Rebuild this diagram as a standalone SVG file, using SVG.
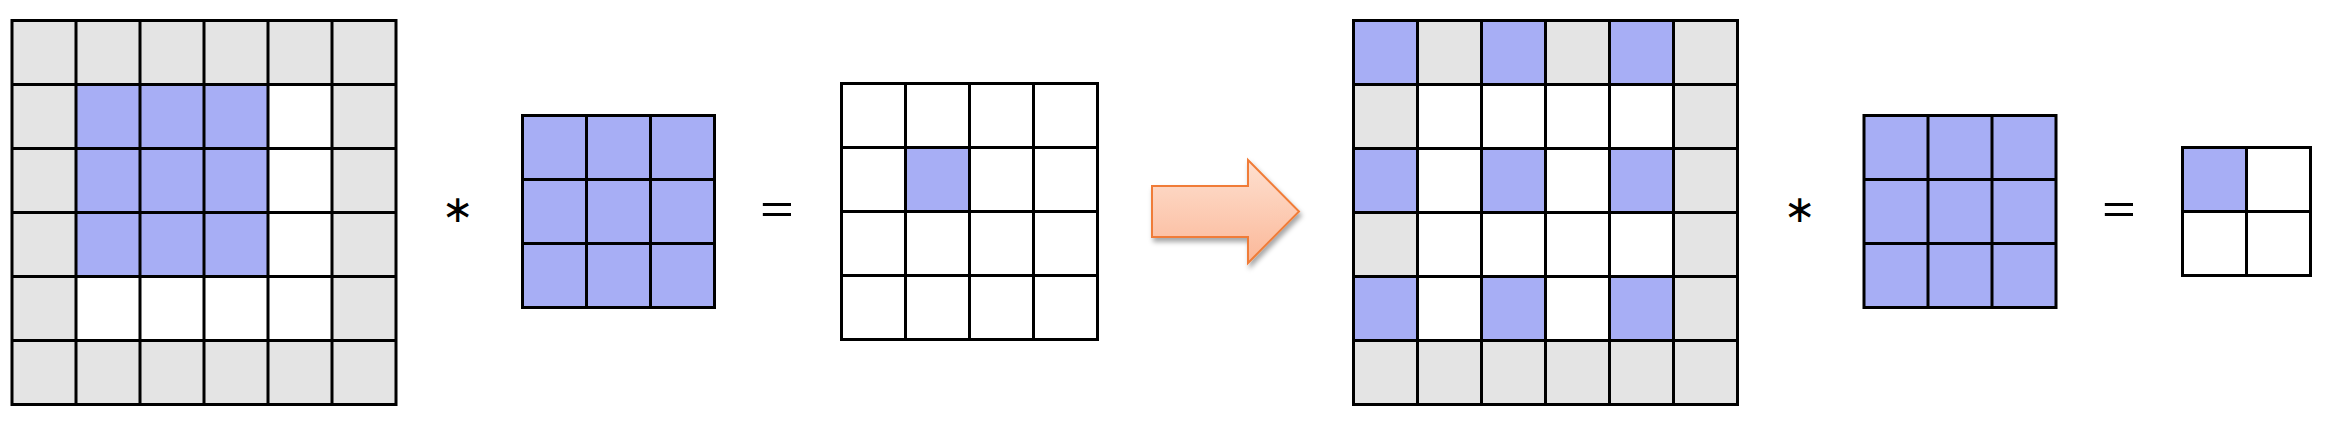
<svg xmlns="http://www.w3.org/2000/svg" width="2344" height="422" viewBox="0 0 2344 422">
<defs>
<style>
.g{fill:#e4e4e4}
.w{fill:#ffffff}
.b{fill:#a7aef5}
.ln{fill:none;stroke:#000;stroke-width:3;stroke-linecap:square}
.op{font-family:"DejaVu Sans","Liberation Sans",sans-serif;fill:#000}
</style>
<linearGradient id="arrowFill" x1="0" y1="0" x2="0" y2="1">
<stop offset="0" stop-color="#fee0d0"/>
<stop offset="1" stop-color="#fbb899"/>
</linearGradient>
<filter id="shadow" x="-20%" y="-20%" width="140%" height="150%">
<feDropShadow dx="2" dy="4" stdDeviation="2.5" flood-color="#000" flood-opacity="0.35"/>
</filter>
</defs>
<rect width="2344" height="422" fill="#fff"/>

<g id="input-padded">
<rect class="g" x="12" y="20.5" width="384" height="384"/>
<rect class="w" x="76" y="84.5" width="256" height="256"/>
<rect class="b" x="76" y="84.5" width="192" height="192"/>
<path class="ln" d="M12 20.5V404.5M76 20.5V404.5M140 20.5V404.5M204 20.5V404.5M268 20.5V404.5M332 20.5V404.5M396 20.5V404.5M12 20.5H396M12 84.5H396M12 148.5H396M12 212.5H396M12 276.5H396M12 340.5H396M12 404.5H396"/>
</g>

<g id="op-star-1"><text class="op" x="458" y="222" font-size="38" text-anchor="middle">∗</text></g>

<g id="kernel-1">
<rect class="b" x="522.5" y="115.5" width="192" height="192"/>
<path class="ln" d="M522.5 115.5V307.5M586.5 115.5V307.5M650.5 115.5V307.5M714.5 115.5V307.5M522.5 115.5H714.5M522.5 179.5H714.5M522.5 243.5H714.5M522.5 307.5H714.5"/>
</g>

<g id="op-eq-1"><text class="op" transform="translate(777 223) scale(1.45 1)" x="0" y="0" font-size="40" text-anchor="middle" style="font-family:'Liberation Sans',sans-serif">=</text></g>

<g id="output-1">
<rect class="w" x="841.5" y="83.5" width="256" height="256"/>
<rect class="b" x="905.5" y="147.5" width="64" height="64"/>
<path class="ln" d="M841.5 83.5V339.5M905.5 83.5V339.5M969.5 83.5V339.5M1033.5 83.5V339.5M1097.5 83.5V339.5M841.5 83.5H1097.5M841.5 147.5H1097.5M841.5 211.5H1097.5M841.5 275.5H1097.5M841.5 339.5H1097.5"/>
</g>

<g id="connectors">
<path d="M1152 186H1248V160L1299 211.5L1248 263V237H1152Z" fill="url(#arrowFill)" stroke="#f07c38" stroke-width="2" stroke-linejoin="miter" filter="url(#shadow)"/>
</g>

<g id="input-dilated">
<rect class="g" x="1353.5" y="20.5" width="384" height="384"/>
<rect class="w" x="1417.5" y="84.5" width="256" height="256"/>
<rect class="b" x="1353.5" y="20.5" width="64" height="64"/>
<rect class="b" x="1481.5" y="20.5" width="64" height="64"/>
<rect class="b" x="1609.5" y="20.5" width="64" height="64"/>
<rect class="b" x="1353.5" y="148.5" width="64" height="64"/>
<rect class="b" x="1481.5" y="148.5" width="64" height="64"/>
<rect class="b" x="1609.5" y="148.5" width="64" height="64"/>
<rect class="b" x="1353.5" y="276.5" width="64" height="64"/>
<rect class="b" x="1481.5" y="276.5" width="64" height="64"/>
<rect class="b" x="1609.5" y="276.5" width="64" height="64"/>
<path class="ln" d="M1353.5 20.5V404.5M1417.5 20.5V404.5M1481.5 20.5V404.5M1545.5 20.5V404.5M1609.5 20.5V404.5M1673.5 20.5V404.5M1737.5 20.5V404.5M1353.5 20.5H1737.5M1353.5 84.5H1737.5M1353.5 148.5H1737.5M1353.5 212.5H1737.5M1353.5 276.5H1737.5M1353.5 340.5H1737.5M1353.5 404.5H1737.5"/>
</g>

<g id="op-star-2"><text class="op" x="1800" y="222" font-size="38" text-anchor="middle">∗</text></g>

<g id="kernel-2">
<rect class="b" x="1864" y="115.5" width="192" height="192"/>
<path class="ln" d="M1864 115.5V307.5M1928 115.5V307.5M1992 115.5V307.5M2056 115.5V307.5M1864 115.5H2056M1864 179.5H2056M1864 243.5H2056M1864 307.5H2056"/>
</g>

<g id="op-eq-2"><text class="op" transform="translate(2119 223) scale(1.45 1)" x="0" y="0" font-size="40" text-anchor="middle" style="font-family:'Liberation Sans',sans-serif">=</text></g>

<g id="output-2">
<rect class="w" x="2182.5" y="147.5" width="128" height="128"/>
<rect class="b" x="2182.5" y="147.5" width="64" height="64"/>
<path class="ln" d="M2182.5 147.5V275.5M2246.5 147.5V275.5M2310.5 147.5V275.5M2182.5 147.5H2310.5M2182.5 211.5H2310.5M2182.5 275.5H2310.5"/>
</g>
</svg>
